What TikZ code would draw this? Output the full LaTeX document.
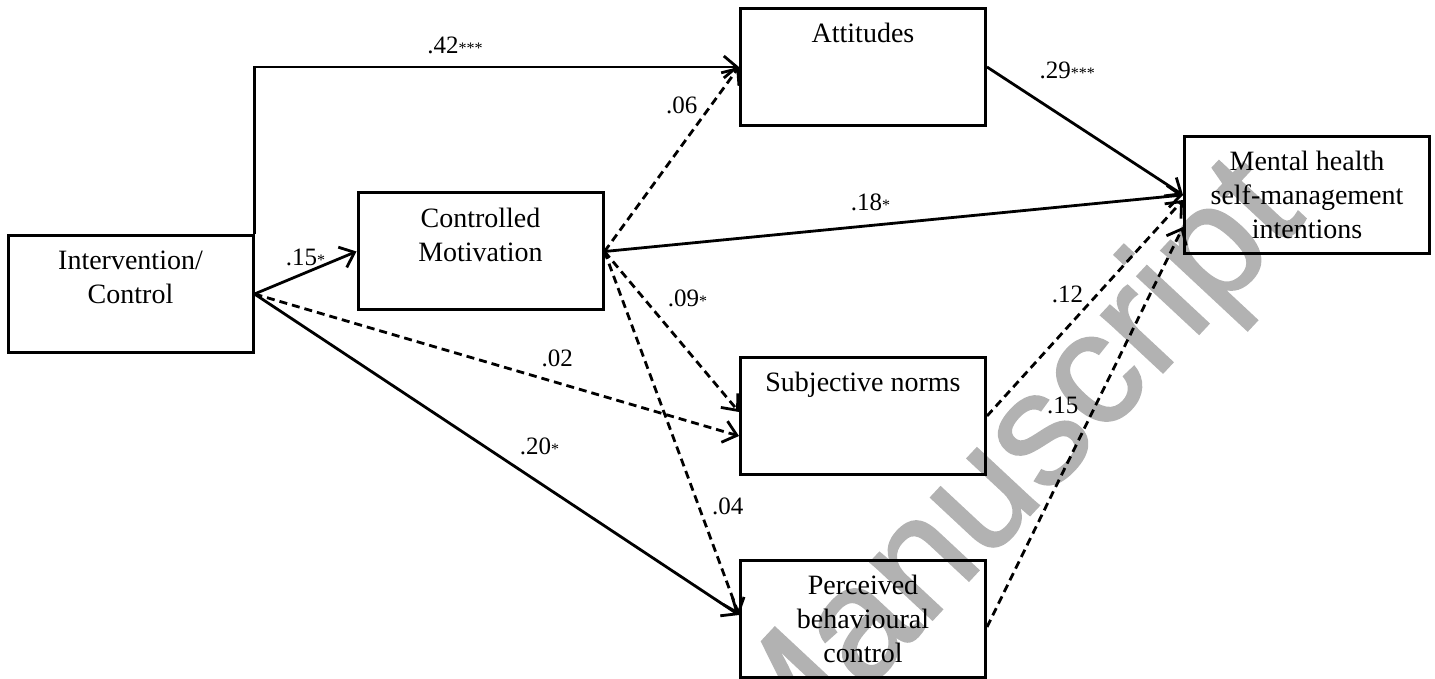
\documentclass[tikz,border=0pt]{standalone}
\usepackage{fontspec}
\setmainfont{Liberation Serif}
\newfontfamily\wmfont[FakeBold=1.2]{Liberation Sans}
\usetikzlibrary{positioning,arrows.meta}
\newcommand{\sig}[1]{{\fontsize{8}{8}\selectfont #1}}

\begin{document}
\begin{tikzpicture}[->, >={Straight Barb[length=6.5pt, width=11pt]}, line width=1.4pt, on grid, dashed/.style={dash pattern=on 4pt off 2.5pt}, var/.style={draw, line width=1.5pt, minimum width=122.5pt, minimum height=58.5pt, align=center, font=\fontsize{14}{17}\selectfont}, coef/.style={font=\fontsize{12.5}{14}\selectfont}]
	\useasboundingbox (0,0) rectangle (717.5pt,-339.5pt);
	\node[rotate=47, text=black!30, font=\wmfont\fontsize{80}{80}\selectfont] (WM) at (505pt,-238pt) {Manuscript};
	
	\node[var] (IC) at (65.25pt,-147pt) {Intervention/\\Control\\\mbox{}};
	\node[var] (CM) [above right=21.25pt and 175pt of IC] {Controlled\\Motivation\\\mbox{}};
	\node[var] (AT) [above right=92.25pt and 191.25pt of CM] {Attitudes\\\mbox{}\\\mbox{}};
	\node[var] (SN) [below=174.5pt of AT] {Subjective norms\\\mbox{}\\\mbox{}};
	\node[var] (PBC) [below=101.5pt of SN] {Perceived\\behavioural\\control};
	\node[var] (MH) [below right=64pt and 222pt of AT] {Mental health\\self-management\\intentions};
	
	\draw (IC.north east) |- node[coef, pos=0.707, yshift=11pt]{.42\sig{***}} (AT.west);
	\path (IC.east) edge[] node[coef, pos=0.5, yshift=7.5pt]{.15\sig{*}} (CM.west);
	\path (IC.east) edge[dashed] node[coef, pos=0.625, yshift=12.25pt]{.02} ([yshift=-10pt]SN.west);
	\path (IC.east) edge[] node[coef, pos=0.588, yshift=18pt]{.20\sig{*}} ([yshift=2pt]PBC.west);
	
	\path (CM.east) edge[dashed] node[coef, pos=0.79, xshift=-14.5pt]{.06} (AT.west);
	\path (CM.east) edge[] node[coef, pos=0.46, yshift=11.5pt]{.18\sig{*}} (MH.west);
	\path (CM.east) edge[dashed] node[coef, pos=0.29, xshift=22pt]{.09\sig{*}} ([yshift=2pt]SN.west);
	\path (CM.east) edge[dashed] node[coef, pos=0.70, xshift=14.5pt]{.04} ([yshift=2pt]PBC.west);
	
	\path (AT.east) edge[] node[coef, pos=0.41, yshift=24.75pt]{.29\sig{***}} (MH.west);
	\path (SN.east) edge[dashed] node[coef, pos=0.564, xshift=-15pt]{.12} ([yshift=-2.5pt]MH.west);
	\path ([yshift=-4pt]PBC.east) edge[dashed] node[coef, pos=0.555, xshift=-16.5pt]{.15} ([yshift=-16pt]MH.west);
	
\end{tikzpicture}
\end{document}
